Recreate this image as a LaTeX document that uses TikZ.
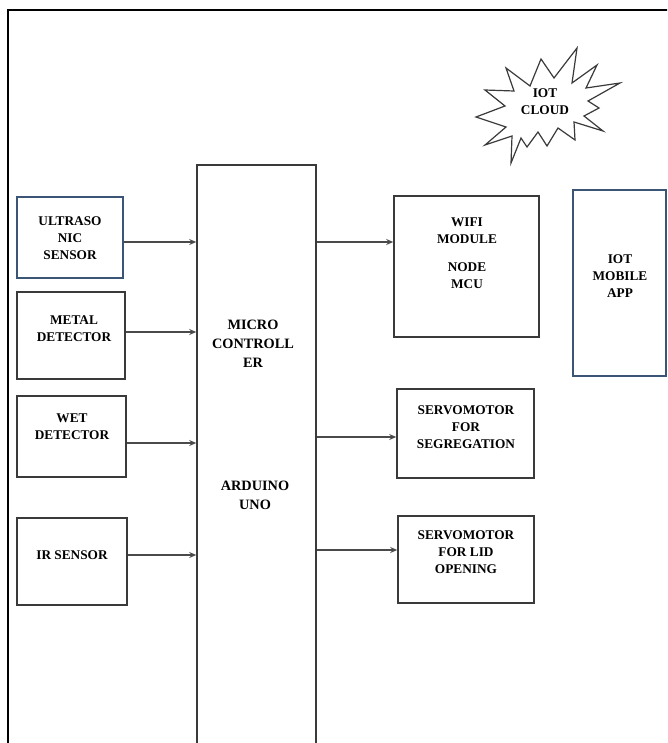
\documentclass[tikz,border=0pt]{standalone}
\usepackage{fontspec}
\setmainfont{Liberation Serif}
\usetikzlibrary{arrows.meta, positioning}
\definecolor{boxgray}{HTML}{3A3A3A}
\definecolor{navyline}{HTML}{3B5577}
\definecolor{wiregray}{HTML}{4A4A4A}
\tikzset{
    block/.style={
        rectangle, draw=boxgray, line width=1.6pt,
        fill=white, inner sep=0pt
    },
    navyblock/.style={block, draw=navyline},
    boxtext/.style={
        align=center, inner sep=0pt,
        font=\fontsize{13.3}{17}\selectfont\bfseries
    },
    mcutext/.style={
        align=center, inner sep=0pt,
        font=\fontsize{14.3}{19}\selectfont\bfseries
    },
    wire/.style={draw=wiregray, line width=1.1pt, -{Stealth[length=7pt,width=6pt]}},
    burst/.style={draw=boxgray, line width=1.2pt, line join=miter, fill=white},
    frame/.style={draw=black, line width=2.2pt}
}

\begin{document}
\begin{tikzpicture}[x=1pt, y=-1pt]

\clip (0,0) rectangle (667,743);
\draw[frame] (8,10) rectangle (700,800);

% Sensors
\node[navyblock, minimum width=106pt, minimum height=81pt] (us) at (70,237.5) {};
\node[boxtext] (ustxt) at (70,238) {ULTRASO\\NIC\\SENSOR};

\node[block, minimum width=108pt, minimum height=87pt] (metal) at (71,335.5) {};
\node[boxtext] (metaltxt) at (74,328.5) {METAL\\DETECTOR};

\node[block, minimum width=109pt, minimum height=81pt] (wet) at (71.5,436.5) {};
\node[boxtext] (wettxt) at (72,427) {WET\\DETECTOR};

\node[block, minimum width=110pt, minimum height=87pt] (ir) at (72,561.5) {};
\node[boxtext] (irtxt) at (72,555) {IR SENSOR};

% Microcontroller (runs off the page)
\node[block, anchor=north, minimum width=119pt, minimum height=640pt] (mcu) at (256.5,164) {};
\node[mcutext] (mcuname) at (253,344) {MICRO\\CONTROLL\\ER};
\node[mcutext] (board) at (255,495.5) {ARDUINO\\UNO};

\draw[wire] ([yshift=-4.5pt]us.east) -- ([yshift=-4.5pt]us.east -| mcu.west);
\draw[wire] ([yshift=3.5pt]metal.east) -- ([yshift=3.5pt]metal.east -| mcu.west);
\draw[wire] ([yshift=-6.5pt]wet.east) -- ([yshift=-6.5pt]wet.east -| mcu.west);
\draw[wire] ([yshift=6.5pt]ir.east) -- ([yshift=6.5pt]ir.east -| mcu.west);

% Outputs
\node[block, minimum width=145pt, minimum height=141pt] (wifi) at (466.5,266.5) {};
\node[boxtext] (wifitxt) at (467,253) {WIFI\\MODULE\\[11pt]NODE\\MCU};

\node[block, minimum width=137pt, minimum height=89pt] (seg) at (465.5,433.5) {};
\node[boxtext] (segtxt) at (466,427) {SERVOMOTOR\\FOR\\SEGREGATION};

\node[block, minimum width=136pt, minimum height=87pt] (lid) at (466,559.5) {};
\node[boxtext] (lidtxt) at (466,552) {SERVOMOTOR\\FOR LID\\OPENING};

\draw[wire] ([yshift=24.5pt]wifi.west -| mcu.east) -- ([yshift=24.5pt]wifi.west);
\draw[wire] ([yshift=-3.5pt]seg.west -| mcu.east) -- ([yshift=-3.5pt]seg.west);
\draw[wire] ([yshift=9.5pt]lid.west -| mcu.east) -- ([yshift=9.5pt]lid.west);

% Cloud and app
\draw[burst] (506,68) -- (530,86) -- (541,59) -- (554,78) -- (577,48) -- (572,83)
    -- (597,65) -- (586,88) -- (620,83) -- (588,101) -- (599,108) -- (584,116)
    -- (603,131) -- (574,122) -- (575,140) -- (558,128) -- (547,146) -- (538,132)
    -- (527,147) -- (521,138) -- (511,163) -- (512,136) -- (485,145) -- (506,127)
    -- (476,117) -- (505,106) -- (485,90) -- (514,91) -- cycle;
\node[boxtext] (cloud) at (545,101.5) {IOT\\CLOUD};

\node[navyblock, minimum width=93pt, minimum height=186pt] (app) at (619.5,283) {};
\node[boxtext] (apptxt) at (620,276) {IOT\\MOBILE\\APP};

\end{tikzpicture}
\end{document}
